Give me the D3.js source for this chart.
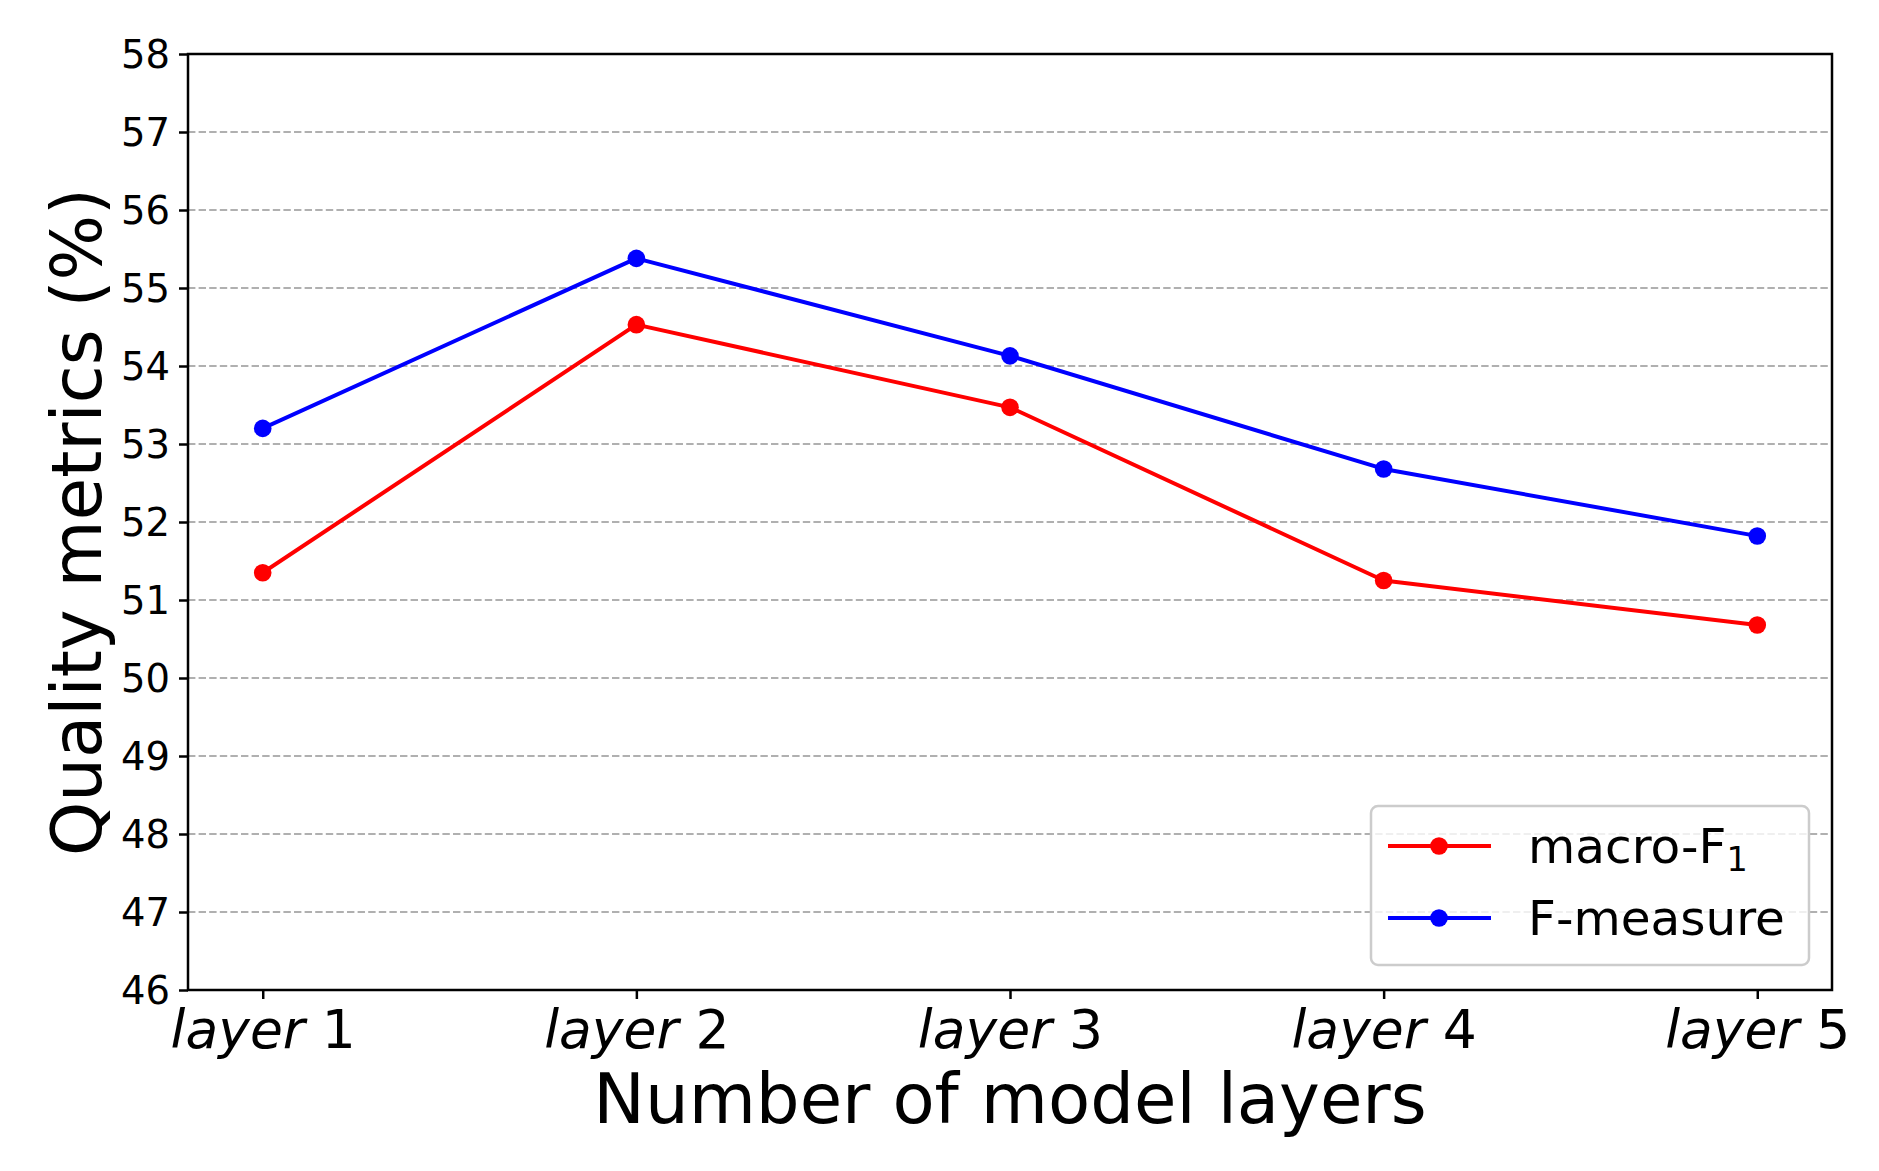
<!DOCTYPE html>
<html>
<head>
<meta charset="utf-8">
<script src="https://cdn.jsdelivr.net/npm/d3@7"></script>
<style>
  html, body { margin: 0; padding: 0; background: #fff; }
  svg { display: block; }
  text { font-family: "DejaVu Sans", sans-serif; fill: #000; }
</style>
</head>
<body>
<svg id="chart" width="1879" height="1171"></svg>
<script>
const categories = ["layer 1", "layer 2", "layer 3", "layer 4", "layer 5"];
const macroF1 = [51.35, 54.53, 53.47, 51.25, 50.68];
const fMeasure = [53.20, 55.38, 54.13, 52.68, 51.82];
const yTicks = [46, 47, 48, 49, 50, 51, 52, 53, 54, 55, 56, 57, 58];
const seriesNames = ["macro-F", "F-measure"];
const seriesColors = ["#ff0000", "#0000ff"];
const xTitle = "Number of model layers";
const yTitle = "Quality metrics (%)";

const W = 1879, H = 1171;
const m = { left: 188, right: 1832, top: 54, bottom: 990 };

const svg = d3.select("#chart");

const x = d3.scalePoint().domain(categories).range([m.left, m.right]).padding(0.2);
const y = d3.scaleLinear().domain([46, 58]).range([m.bottom, m.top]);

// grid
svg.append("g").selectAll("line")
  .data(yTicks.filter(t => t > 46 && t < 58))
  .join("line")
  .attr("x1", m.left).attr("x2", m.right)
  .attr("y1", d => y(d)).attr("y2", d => y(d))
  .attr("stroke", "#b0b0b0").attr("stroke-width", 2)
  .attr("stroke-dasharray", "7.4,3.2");

// series
const series = [
  { name: seriesNames[0], values: macroF1, color: seriesColors[0] },
  { name: seriesNames[1], values: fMeasure, color: seriesColors[1] }
];
const line = d3.line().x((d, i) => x(categories[i])).y(d => y(d));
series.forEach(s => {
  svg.append("path").datum(s.values)
    .attr("d", line).attr("fill", "none")
    .attr("stroke", s.color).attr("stroke-width", 4)
    .attr("stroke-linejoin", "round").attr("stroke-linecap", "square");
  svg.append("g").selectAll("circle").data(s.values).join("circle")
    .attr("cx", (d, i) => x(categories[i])).attr("cy", d => y(d))
    .attr("r", 8.8).attr("fill", s.color);
});

// axes
const yAxis = svg.append("g").attr("transform", `translate(${m.left},0)`)
  .call(d3.axisLeft(y).tickValues(yTicks).tickFormat(d3.format("d")).tickSize(9).tickPadding(9));
const xAxis = svg.append("g").attr("transform", `translate(0,${m.bottom})`)
  .call(d3.axisBottom(x).tickSize(9).tickPadding(8));
[yAxis, xAxis].forEach(a => {
  a.select(".domain").remove();
  a.selectAll(".tick line").attr("stroke", "#000").attr("stroke-width", 2.5);
  a.selectAll("text").attr("font-family", "DejaVu Sans").attr("fill", "#000");
});
yAxis.selectAll("text").attr("font-size", 38.5).attr("dy", "0.36em");
xAxis.selectAll("text").attr("font-size", 53.5).attr("dy", "0.76em")
  .each(function(d) {
    const parts = d.split(" ");
    const t = d3.select(this).text(null);
    t.append("tspan").attr("font-style", "italic").text(parts[0]);
    t.append("tspan").text(" " + parts[1]);
  });

// frame
svg.append("rect")
  .attr("x", m.left).attr("y", m.top)
  .attr("width", m.right - m.left).attr("height", m.bottom - m.top)
  .attr("fill", "none").attr("stroke", "#000").attr("stroke-width", 2.5);

// titles
svg.append("text")
  .attr("x", (m.left + m.right) / 2).attr("y", 1123)
  .attr("text-anchor", "middle").attr("font-size", 69)
  .text(xTitle);
svg.append("text")
  .attr("transform", `translate(101,${(m.top + m.bottom) / 2}) rotate(-90)`)
  .attr("text-anchor", "middle").attr("font-size", 69)
  .text(yTitle);

// legend
const lg = svg.append("g");
lg.append("rect")
  .attr("x", 1371).attr("y", 806).attr("width", 438).attr("height", 159)
  .attr("rx", 7).attr("ry", 7)
  .attr("fill", "#fff").attr("fill-opacity", 0.8)
  .attr("stroke", "#cccccc").attr("stroke-width", 2.5);
const legendY = [846, 918];
series.forEach((s, i) => {
  const g = lg.append("g");
  g.append("line").attr("x1", 1388).attr("x2", 1491)
    .attr("y1", legendY[i]).attr("y2", legendY[i])
    .attr("stroke", s.color).attr("stroke-width", 4);
  g.append("circle").attr("cx", 1439).attr("cy", legendY[i]).attr("r", 8.8).attr("fill", s.color);
  const t = g.append("text").attr("x", 1528).attr("y", legendY[i] + 16.5)
    .attr("font-size", 48.5);
  t.append("tspan").text(s.name);
  if (i === 0) {
    t.append("tspan").attr("font-size", 33.5).attr("dy", 8).text("1");
  }
});
</script>
</body>
</html>
